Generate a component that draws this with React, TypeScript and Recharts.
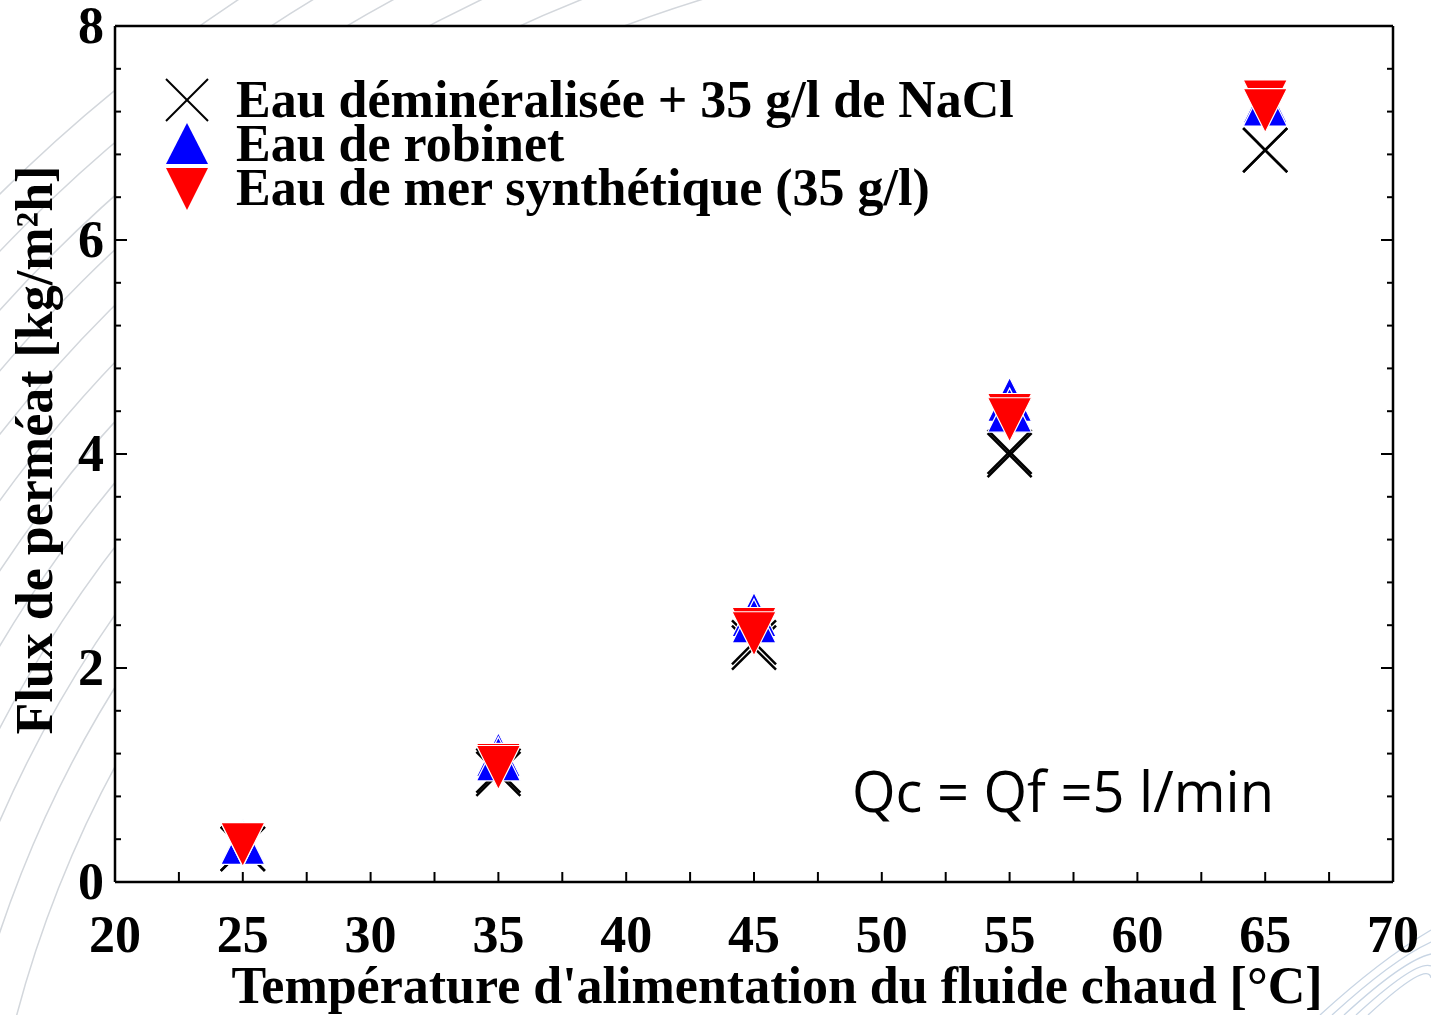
import React from 'react';
import { ScatterChart, Scatter, XAxis, YAxis, CartesianGrid, Legend } from 'recharts';

// temperatures d'alimentation (°C)
const temperatures = [25, 35, 45, 55, 65];

// flux de perméat (kg/m2h), deux essais par eau
const fluxNaClA = [0.31, 1.04, 2.24, 3.99, 6.84];
const fluxNaClB = [0.31, 1.01, 2.19, 4.02, 6.84];
const fluxRobinetA = [0.38, 1.19, 2.5, 4.51, 7.3];
const fluxRobinetB = [0.37, 1.15, 2.44, 4.41, 7.27];
const fluxMerA = [0.35, 1.09, 2.36, 4.36, 7.29];
const fluxMerB = [0.35, 1.07, 2.32, 4.32, 7.21];

const seriesNames = [
  'Eau déminéralisée + 35 g/l de NaCl',
  'Eau de robinet',
  'Eau de mer synthétique (35 g/l)',
];

const xTicks = [20, 22.5, 25, 27.5, 30, 32.5, 35, 37.5, 40, 42.5, 45, 47.5, 50, 52.5, 55, 57.5, 60, 62.5, 65, 67.5, 70];
const yTicks = [0, 0.4, 0.8, 1.2, 1.6, 2, 2.4, 2.8, 3.2, 3.6, 4, 4.4, 4.8, 5.2, 5.6, 6, 6.4, 6.8, 7.2, 7.6, 8];

const toPoints = (a: number[], b: number[]) => [
  ...temperatures.map((t, i) => ({ x: t, y: a[i] })),
  ...temperatures.map((t, i) => ({ x: t, y: b[i] })),
];

const serif = "'Liberation Serif', 'Times New Roman', serif";
const H = 22; // demi-taille des symboles

const CrossMark = ({ cx, cy }: any) => (
  <g stroke="#000" strokeWidth={2.5}>
    <line x1={cx - H} y1={cy - H} x2={cx + H} y2={cy + H} />
    <line x1={cx - H} y1={cy + H} x2={cx + H} y2={cy - H} />
  </g>
);

const TriUp = ({ cx, cy }: any) => (
  <path d={`M${cx},${cy - H} L${cx + H},${cy + H} L${cx - H},${cy + H} Z`} fill="#0000ff" stroke="#fff" strokeWidth={1.2} />
);

const TriDown = ({ cx, cy }: any) => (
  <path d={`M${cx - H},${cy - H} L${cx + H},${cy - H} L${cx},${cy + H} Z`} fill="#ff0000" stroke="#fff" strokeWidth={1.2} />
);

const isMajorY = (v: number) => Math.abs(v / 2 - Math.round(v / 2)) < 1e-6;
const isMajorX = (v: number) => Math.abs(v / 5 - Math.round(v / 5)) < 1e-6;

const labelStyle = { fontFamily: serif, fontWeight: 700, fontSize: 52, fill: '#000' };

const LeftTick = ({ x, y, payload }: any) => {
  const major = isMajorY(payload.value);
  return (
    <g>
      <line x1={x} y1={y} x2={x + (major ? 12 : 6)} y2={y} stroke="#000" strokeWidth={2} />
      {major && (
        <text x={x - 11} y={y + 17} textAnchor="end" style={labelStyle}>
          {payload.value}
        </text>
      )}
    </g>
  );
};

const RightTick = ({ x, y, payload }: any) => {
  const major = isMajorY(payload.value);
  return <line x1={x} y1={y} x2={x - (major ? 12 : 6)} y2={y} stroke="#000" strokeWidth={2} />;
};

const BottomTick = ({ x, y, payload }: any) => (
  <g>
    <line x1={x} y1={y} x2={x} y2={y - 10} stroke="#000" strokeWidth={2} />
    {isMajorX(payload.value) && (
      <text x={x} y={y + 70} textAnchor="middle" style={labelStyle}>
        {payload.value}
      </text>
    )}
  </g>
);

const TopTick = ({ x, y }: any) => <line x1={x} y1={y} x2={x} y2={y + 10} stroke="#000" strokeWidth={2} />;

const legendIcons = [
  <svg width={44} height={44} key="c">
    <line x1={1} y1={1} x2={43} y2={43} stroke="#000" strokeWidth={2} />
    <line x1={1} y1={43} x2={43} y2={1} stroke="#000" strokeWidth={2} />
  </svg>,
  <svg width={44} height={44} key="u">
    <path d="M22,1 L43,42 L1,42 Z" fill="#0000ff" />
  </svg>,
  <svg width={44} height={44} key="d">
    <path d="M1,2 L43,2 L22,44 Z" fill="#ff0000" />
  </svg>,
];

const LegendBox = () => (
  <div>
    {seriesNames.map((name, i) => (
      <div key={name} style={{ display: 'flex', alignItems: 'center', height: 44 }}>
        <div style={{ width: 44, height: 44, marginRight: 27 }}>{legendIcons[i]}</div>
        <span style={{ fontFamily: serif, fontWeight: 700, fontSize: 52, lineHeight: '44px', whiteSpace: 'nowrap', color: '#000' }}>
          {name}
        </span>
      </div>
    ))}
  </div>
);

const bgArcs = [1120, 1160, 1200, 1240, 1280, 1320, 1360, 1400, 1440, 1480, 1520, 1560];

export default function App() {
  return (
    <div style={{ position: 'absolute', left: 0, top: 0, width: 1431, height: 1015, background: '#fff', overflow: 'hidden' }}>
      {/* fond décoratif (lignes grises) */}
      <svg width={1431} height={1015} style={{ position: 'absolute', left: 0, top: 0 }}>
        <defs>
          <clipPath id="bgclip">
            <rect x={0} y={0} width={720} height={1015} />
          </clipPath>
        </defs>
        <g clipPath="url(#bgclip)">
          {bgArcs.map((r) => (
            <circle key={r} cx={1100} cy={1300} r={r} fill="none" stroke="#d3d7dc" strokeWidth={1.5} />
          ))}
        </g>
        {[0, 12, 24, 36, 48].map((d) => (
          <path key={d} d={`M${1320 + d},1015 Q${1380 + d},960 ${1431},${930 + d}`} fill="none" stroke="#c8d5e4" strokeWidth={1.3} />
        ))}
      </svg>

      <div style={{ position: 'absolute', left: 0, top: 0 }}>
        <ScatterChart width={1431} height={1015} margin={{ top: 25, right: 37, bottom: 0, left: 0 }}>
          <CartesianGrid horizontal={false} vertical={false} fill="#fff" />
          <XAxis
            type="number"
            dataKey="x"
            domain={[20, 70]}
            ticks={xTicks}
            interval={0}
            allowDataOverflow
            height={133}
            tickSize={0}
            tickMargin={0}
            tickLine={false}
            axisLine={{ stroke: '#000', strokeWidth: 2.5 }}
            tick={<BottomTick />}
            label={{
              content: (p: any) => {
                const vb = p.viewBox;
                return (
                  <text x={vb.x + vb.width / 2 + 23} y={vb.y + 121} textAnchor="middle" style={labelStyle}>
                    Température d'alimentation du fluide chaud [°C]
                  </text>
                );
              },
            }}
          />
          <XAxis
            xAxisId="top"
            orientation="top"
            type="number"
            domain={[20, 70]}
            ticks={xTicks}
            interval={0}
            allowDataOverflow
            height={1}
            tickSize={0}
            tickMargin={0}
            tickLine={false}
            axisLine={{ stroke: '#000', strokeWidth: 2.5 }}
            tick={<TopTick />}
          />
          <YAxis
            type="number"
            dataKey="y"
            domain={[0, 8]}
            ticks={yTicks}
            interval={0}
            allowDataOverflow
            width={115}
            tickSize={0}
            tickMargin={0}
            tickLine={false}
            axisLine={{ stroke: '#000', strokeWidth: 2.5 }}
            tick={<LeftTick />}
            label={{
              content: (p: any) => {
                const vb = p.viewBox;
                const cx = vb.x + 52;
                const cy = vb.y + vb.height / 2 - 4;
                return (
                  <text x={cx} y={cy} transform={`rotate(-90 ${cx} ${cy})`} textAnchor="middle" style={labelStyle}>
                    Flux de perméat [kg/m²h]
                  </text>
                );
              },
            }}
          />
          <YAxis
            yAxisId="right"
            orientation="right"
            type="number"
            domain={[0, 8]}
            ticks={yTicks}
            interval={0}
            allowDataOverflow
            width={1}
            tickSize={0}
            tickMargin={0}
            tickLine={false}
            axisLine={{ stroke: '#000', strokeWidth: 2.5 }}
            tick={<RightTick />}
          />
          <Legend
            layout="vertical"
            align="center"
            verticalAlign="middle"
            content={<LegendBox />}
            wrapperStyle={{ left: 165, top: 78, width: 'auto' }}
          />
          <Scatter name={seriesNames[0]} data={toPoints(fluxNaClA, fluxNaClB)} shape={<CrossMark />} isAnimationActive={false} />
          <Scatter name={seriesNames[1]} data={toPoints(fluxRobinetA, fluxRobinetB)} shape={<TriUp />} isAnimationActive={false} />
          <Scatter name={seriesNames[2]} data={toPoints(fluxMerA, fluxMerB)} shape={<TriDown />} isAnimationActive={false} />
        </ScatterChart>
      </div>

      <div
        style={{
          position: 'absolute',
          left: 852,
          top: 762,
          fontFamily: "'Open Sans', 'Noto Sans', sans-serif",
          fontSize: 56,
          lineHeight: 1,
          whiteSpace: 'nowrap',
          color: '#000',
        }}
      >
        Qc = Qf =5 l/min
      </div>
    </div>
  );
}
